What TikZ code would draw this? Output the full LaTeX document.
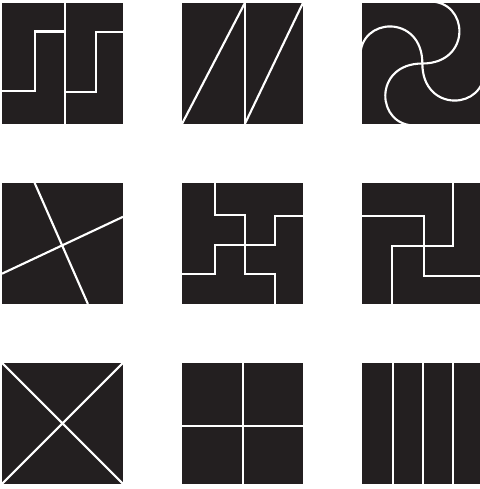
\documentclass[tikz,border=0pt]{standalone}
\definecolor{tileink}{RGB}{35,31,32}
\begin{document}
\begin{tikzpicture}[
 x=.5cm,y=.5cm,
 tile/.style={fill=tileink},
 cut/.style={draw=white,line width=1pt}]
 \useasboundingbox (-.066,-16.07) rectangle (15.80,.1);
 % nine black tiles, each 4 by 4, with their white cuts
 \foreach \cx/\cy/\kind in {0/0/1,1/0/2,2/0/3,0/1/4,1/1/5,2/1/6,0/2/7,1/2/8,2/2/9}{
  \begin{scope}[shift={(\cx*5.95,-\cy*5.95-4)}]
   \fill[tile] (0,0) rectangle (4,4);
   \ifnum\kind=1
    \draw[cut] (2.08,0)--(2.08,4);
    \draw[cut] (0,1.1)--(1.08,1.1)--(1.08,3.06)--(2.08,3.06);
    \draw[cut] (2.08,1.06)--(3.1,1.06)--(3.1,3.04)--(4,3.04);
   \fi
   \ifnum\kind=2
    \draw[cut] (2.08,0)--(2.08,4);
    \draw[cut] (0,0)--(2.08,4) (2.08,0)--(4,4);
   \fi
   \ifnum\kind=3
    \foreach \ang in {0,90,180,270}{
     \begin{scope}[shift={(2,2)},rotate=\ang]
      \draw[cut] (0,0)..controls(1.65,0)and(1.55,2.1)..(.2,2.05);
     \end{scope}
    }
   \fi
   \ifnum\kind=4
    \draw[cut] (1.08,4)--(2.84,0);
    \draw[cut] (0,1)--(4,2.88);
   \fi
   \ifnum\kind=5
    \draw[cut] (1.1,4)--(1.1,2.93)--(2.08,2.93)--(2.08,.98)--(3.07,.98)--(3.07,0);
    \draw[cut] (0,1)--(1.1,1)--(1.1,1.95)--(3.07,1.95)--(3.07,2.92)--(4,2.92);
   \fi
   \ifnum\kind=6
    \draw[cut] (3.02,4)--(3.02,1.92)--(1.01,1.92)--(1.01,0);
    \draw[cut] (0,2.91)--(2.04,2.91)--(2.04,.92)--(4,.92);
   \fi
   \ifnum\kind=7
    \draw[cut] (0,0)--(4,4) (0,4)--(4,0);
   \fi
   \ifnum\kind=8
    \draw[cut] (2.02,0)--(2.02,4) (0,1.92)--(4,1.92);
   \fi
   \ifnum\kind=9
    \foreach \lx in {1.03,2.02,3.01} \draw[cut] (\lx,0)--(\lx,4);
   \fi
  \end{scope}
 }
\end{tikzpicture}
\end{document}
